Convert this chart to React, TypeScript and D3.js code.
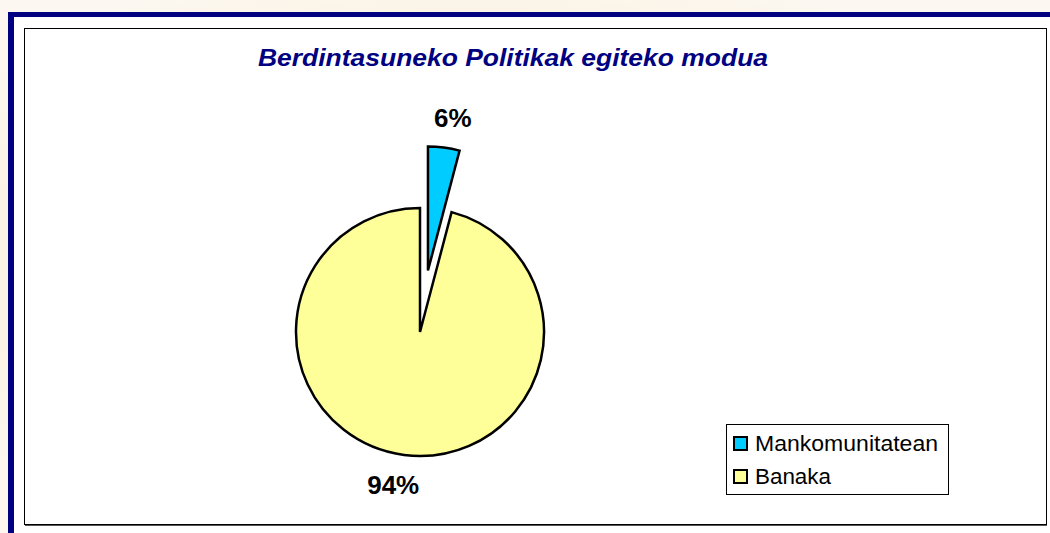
import React from "react";
import * as d3 from "d3";

const categories = ["Mankomunitatean", "Banaka"];
const values = [4.1, 95.9];
const valueLabels = ["6%", "94%"];
const colors = ["#00CCFF", "#FFFF99"];
const title = "Berdintasuneko Politikak egiteko modua";

export default function App() {
  const W = 1050, H = 533;
  const cx = 420, cy = 332, r = 124;
  const explode = 62;
  const pie = d3.pie<number>().sort(null).startAngle(0).endAngle(2 * Math.PI);
  const arcs = pie(values);
  const arc = d3.arc<d3.PieArcDatum<number>>().innerRadius(0).outerRadius(r);
  const labelArc = d3.arc<d3.PieArcDatum<number>>().innerRadius(r + 30).outerRadius(r + 30);
  const labelShift = [5, -7];

  return (
    <svg width={W} height={H} style={{ position: "absolute", left: 0, top: 0 }} fontFamily="Liberation Sans, Arial, sans-serif">
      <defs>
        <radialGradient id="wm" cx="0.45" cy="0.5" r="0.6">
          <stop offset="0" stopColor="#f7e3c0" />
          <stop offset="1" stopColor="#fcf8f1" />
        </radialGradient>
      </defs>
      <rect x={0} y={0} width={W} height={H} fill="url(#wm)" />
      {/* navy frame */}
      <rect x={8} y={12} width={W - 8} height={H - 12} fill="#000080" />
      <rect x={14} y={17} width={W - 14} height={H - 17} fill="#ffffff" />
      {/* chart border */}
      <rect x={24.5} y={28.5} width={1022} height={496} fill="#ffffff" stroke="#000" strokeWidth={1} />
      <line x1={25} y1={525.5} x2={1047} y2={525.5} stroke="#555" strokeWidth={1} />
      <text x={513} y={66} textAnchor="middle" fontSize={24} fontWeight="bold" fontStyle="italic" fill="#000080"
        textLength={510} lengthAdjust="spacingAndGlyphs">
        {title}
      </text>
      {arcs.map((a, i) => {
        const mid = (a.startAngle + a.endAngle) / 2;
        const off = i === 0 ? explode : 0;
        const dx = Math.sin(mid) * off;
        const dy = -Math.cos(mid) * off;
        const [lx, ly] = labelArc.centroid(a);
        return (
          <g key={categories[i]} transform={`translate(${cx + dx},${cy + dy})`}>
            <path d={arc(a) || ""} fill={colors[i]} stroke="#000" strokeWidth={2.5} strokeLinejoin="miter" />
            <text x={lx + labelShift[i]} y={ly} textAnchor="middle" dominantBaseline="central" fontSize={26} fontWeight="bold" fill="#000">
              {valueLabels[i]}
            </text>
          </g>
        );
      })}
      {/* legend */}
      <rect x={726.5} y={424.5} width={222} height={70} fill="#fff" stroke="#000" strokeWidth={1} />
      {categories.map((c, i) => (
        <g key={c} transform={`translate(734,${437 + i * 33})`}>
          <rect x={0} y={0} width={13} height={13} fill={colors[i]} stroke="#000" strokeWidth={2} />
          <text x={21} y={13.5} fontSize={22} fill="#000" textLength={i === 0 ? 183 : 76} lengthAdjust="spacingAndGlyphs">{c}</text>
        </g>
      ))}
    </svg>
  );
}
